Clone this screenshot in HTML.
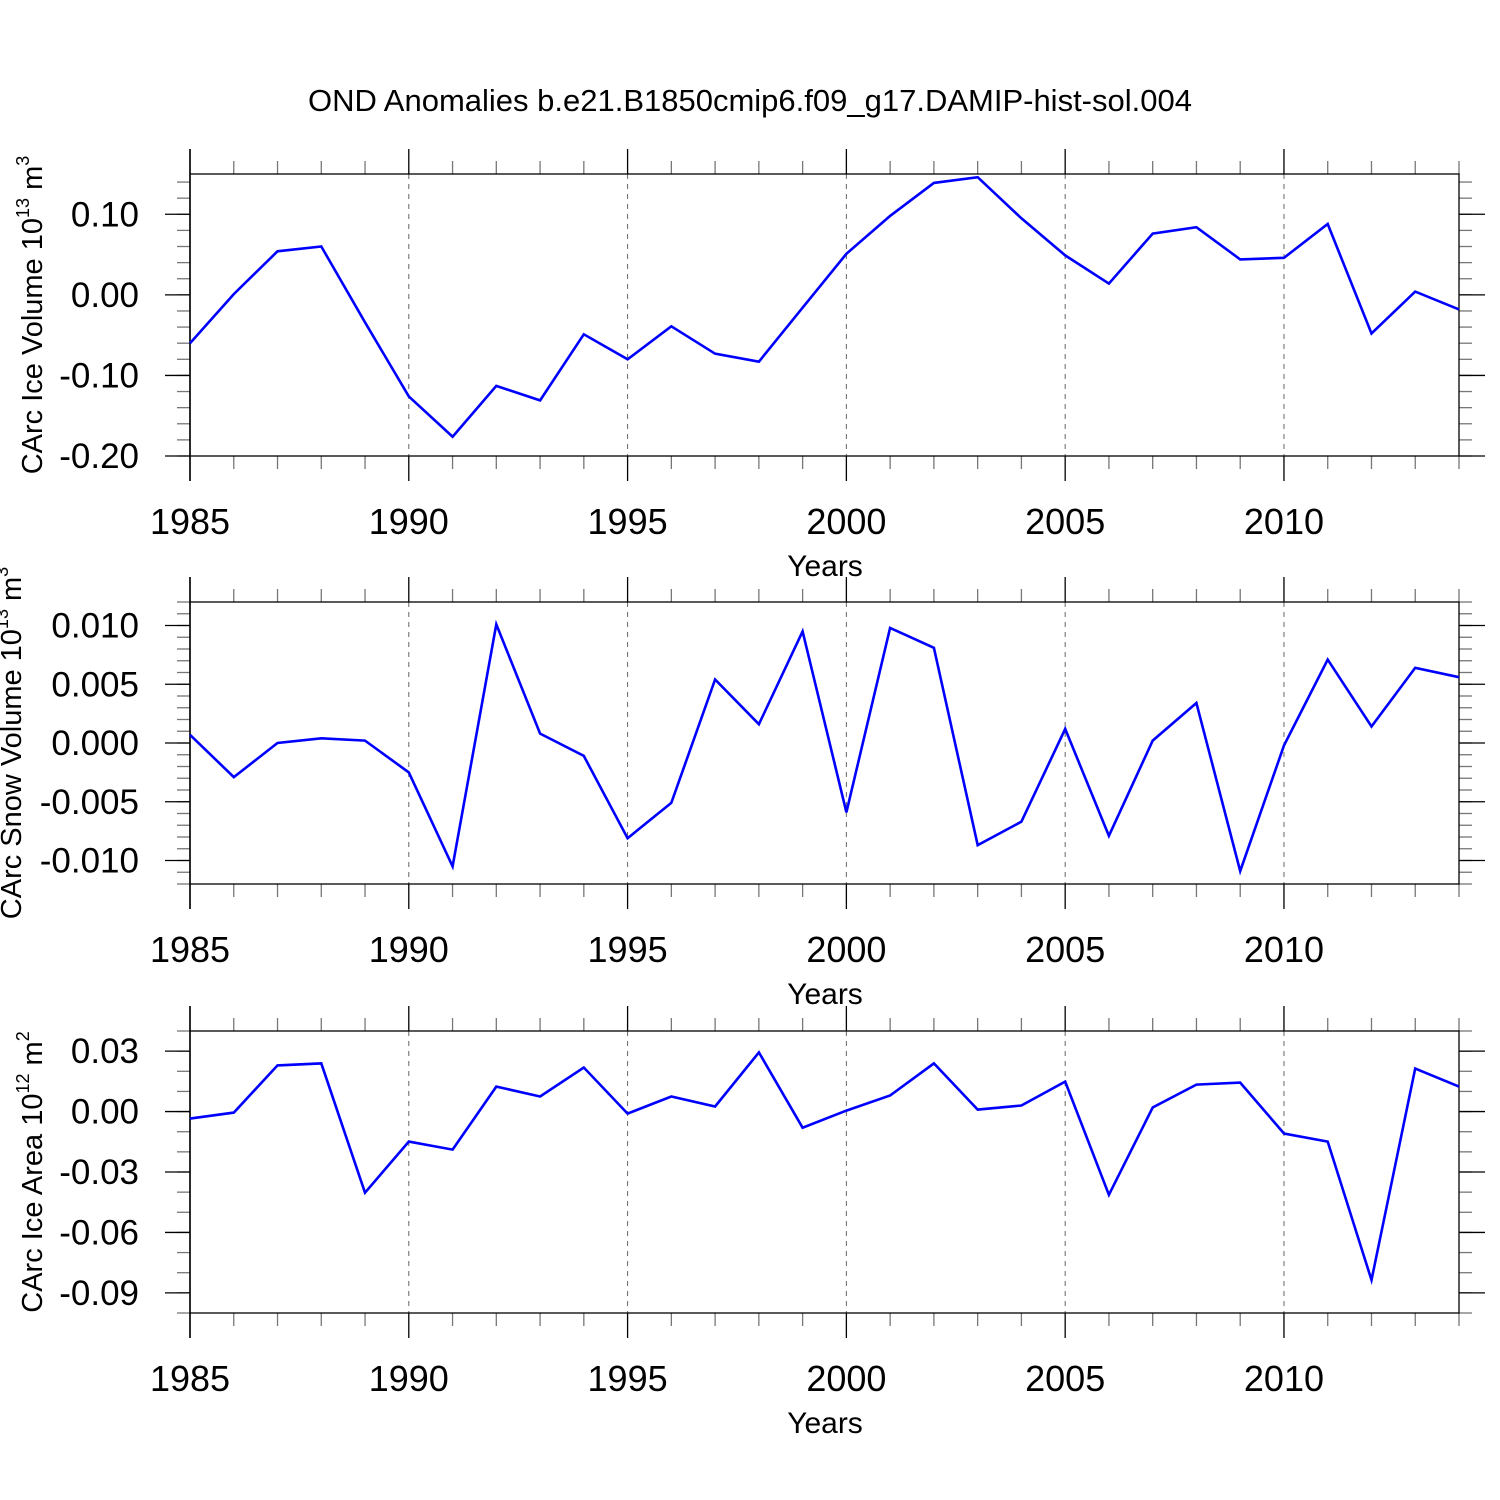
<!DOCTYPE html>
<html><head><meta charset="utf-8"><style>
body{margin:0;background:#fff}
svg{display:block;font-family:"Liberation Sans",sans-serif}
</style></head><body>
<svg id="c" width="1500" height="1500" viewBox="0 0 1500 1500">
<text x="750" y="111" text-anchor="middle" font-size="31">OND Anomalies b.e21.B1850cmip6.f09_g17.DAMIP-hist-sol.004</text>
</svg>
<script>
const years=[1985,1986,1987,1988,1989,1990,1991,1992,1993,1994,1995,1996,1997,1998,1999,2000,2001,2002,2003,2004,2005,2006,2007,2008,2009,2010,2011,2012,2013,2014];
const iceVolume=[-0.060,0.001,0.054,0.060,-0.034,-0.126,-0.176,-0.113,-0.131,-0.049,-0.080,-0.039,-0.073,-0.083,-0.016,0.051,0.098,0.139,0.146,0.095,0.049,0.014,0.076,0.084,0.044,0.046,0.088,-0.048,0.004,-0.018];
const snowVolume=[0.0007,-0.0029,0.0000,0.0004,0.0002,-0.0025,-0.0105,0.0101,0.0008,-0.0011,-0.0081,-0.0051,0.0054,0.0016,0.0095,-0.0059,0.0098,0.0081,-0.0087,-0.0067,0.0012,-0.0079,0.0002,0.0034,-0.0109,-0.0002,0.0071,0.0014,0.0064,0.0056];
const iceArea=[-0.0035,-0.0005,0.0229,0.0239,-0.0403,-0.0149,-0.0189,0.0124,0.0075,0.0219,-0.0010,0.0075,0.0025,0.0294,-0.0080,0.0005,0.0080,0.0239,0.0010,0.0030,0.0149,-0.0413,0.0020,0.0134,0.0144,-0.0109,-0.0149,-0.0836,0.0214,0.0124];
const xTickLabels=[1985,1990,1995,2000,2005,2010];
const ticks1=["0.10","0.00","-0.10","-0.20"];
const ticks2=["0.010","0.005","0.000","-0.005","-0.010"];
const ticks3=["0.03","0.00","-0.03","-0.06","-0.09"];
const NS="http://www.w3.org/2000/svg";
const svg=document.getElementById('c');
function mk(tag,attrs,parent){const e=document.createElementNS(NS,tag);for(const k in attrs)e.setAttribute(k,attrs[k]);(parent||svg).appendChild(e);return e;}
const X0=190,X1=1459;
function xs(y){return X0+(y-1985)*(X1-X0)/29;}
function panel(cfg){
  const g=mk('g',{});
  
  
  const ys=v=>cfg.top+(cfg.max-v)*(cfg.bot-cfg.top)/(cfg.max-cfg.min);
  for(let yr=1990;yr<=2010;yr+=5){
    const l=mk('line',{x1:xs(yr),x2:xs(yr),y1:cfg.top,y2:cfg.bot,stroke:'#666','stroke-width':1,'stroke-dasharray':'5,5'},g);
    
    
  }
  for(let yr=1985;yr<=2014;yr++){
    const major=(yr%5===0);const len=major?25:13;const col=major?'#000':'#777';
    mk('line',{x1:xs(yr),x2:xs(yr),y1:cfg.top-len,y2:cfg.top,stroke:col,'stroke-width':1.3},g);
    mk('line',{x1:xs(yr),x2:xs(yr),y1:cfg.bot,y2:cfg.bot+len,stroke:col,'stroke-width':1.3},g);
  }
  for(let v=cfg.min;v<=cfg.max+1e-9;v+=cfg.minor){
    const y=ys(v);
    mk('line',{x1:X0-13,x2:X0,y1:y,y2:y,stroke:'#777','stroke-width':1.3},g);
    mk('line',{x1:X1,x2:X1+13,y1:y,y2:y,stroke:'#777','stroke-width':1.3},g);
  }
  cfg.ticks.forEach(t=>{
    const y=ys(parseFloat(t));
    mk('line',{x1:X0-25,x2:X0,y1:y,y2:y,stroke:'#000','stroke-width':1.3},g);
    mk('line',{x1:X1,x2:X1+26,y1:y,y2:y,stroke:'#000','stroke-width':1.3},g);
    const tx=mk('text',{x:139,y:y+12,'text-anchor':'end','font-size':35},g);
    tx.textContent=t;
    
    
  });
  const box=mk('rect',{x:X0,y:cfg.top,width:X1-X0,height:cfg.bot-cfg.top,fill:'none',stroke:'#000','stroke-width':1.3},g);
  
  
  mk('line',{x1:X0,x2:X0,y1:cfg.top-25,y2:cfg.bot+25,stroke:'#000','stroke-width':1.5},g);
  xTickLabels.forEach(yr=>{
    const tx=mk('text',{x:xs(yr),y:cfg.bot+78,'text-anchor':'middle','font-size':36},g);
    tx.textContent=yr;
    
    
  });
  const xt=mk('text',{x:825,y:cfg.bot+120,'text-anchor':'middle','font-size':30},g);
  xt.textContent='Years';
  
  
  const cy=(cfg.top+cfg.bot)/2;
  const yt=mk('text',{x:cfg.tx,y:cy,'text-anchor':'middle','font-size':29,transform:`rotate(-90 ${cfg.tx} ${cy})`},g);
  yt.innerHTML=cfg.title+' 10<tspan font-size="18" dy="-13">'+cfg.exp+'</tspan><tspan dy="13"> m</tspan><tspan font-size="18" dy="-13">'+cfg.unitExp+'</tspan>';
  
  
  const pts=cfg.data.map((v,i)=>xs(years[i]).toFixed(1)+','+ys(v).toFixed(1)).join(' ');
  const pl=mk('polyline',{points:pts,fill:'none',stroke:'#0000ff','stroke-width':2.6,'stroke-linejoin':'miter'},g);
  
  
}
panel({name:'ice-volume-panel',top:174,bot:456,min:-0.20,max:0.15,minor:0.02,ticks:ticks1,data:iceVolume,title:'CArc Ice Volume',exp:'13',unitExp:'3',tx:42});
panel({name:'snow-volume-panel',top:602,bot:884,min:-0.012,max:0.012,minor:0.001,ticks:ticks2,data:snowVolume,title:'CArc Snow Volume',exp:'13',unitExp:'3',tx:21});
panel({name:'ice-area-panel',top:1031,bot:1313,min:-0.10,max:0.04,minor:0.01,ticks:ticks3,data:iceArea,title:'CArc Ice Area',exp:'12',unitExp:'2',tx:42});
</script>
</body></html>
